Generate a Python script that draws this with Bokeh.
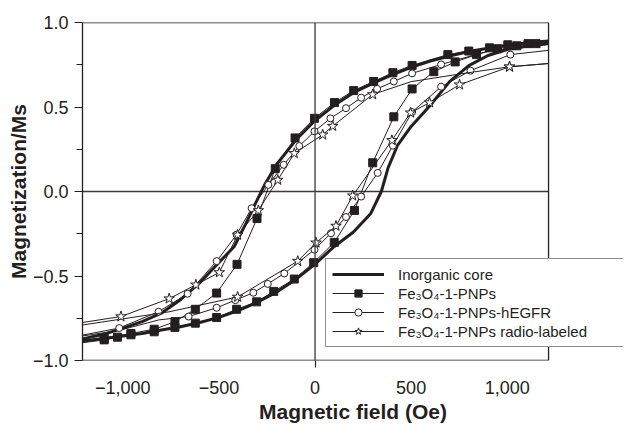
from bokeh.plotting import figure
from bokeh.models import FixedTicker, Span, Legend, LegendItem
from bokeh.embed import file_html
from bokeh.resources import INLINE

# ---------------- data ----------------
x_ticks = [-1000, -500, 0, 500, 1000]
x_tick_labels = ["\u22121,000", "\u2212500", "0", "500", "1,000"]
y_ticks = [-1.0, -0.5, 0.0, 0.5, 1.0]
y_tick_labels = ["\u22121.0", "\u22120.5", "0.0", "0.5", "1.0"]
y_minor_ticks = [-0.75, -0.25, 0.25, 0.75]

series_names = ["Inorganic core", "Fe\u2083O\u2084-1-PNPs",
                "Fe\u2083O\u2084-1-PNPs-hEGFR", "Fe\u2083O\u2084-1-PNPs radio-labeled"]

# Inorganic core (thick line, no markers)
core_up_H = [1215, 1100, 1000, 900, 800, 700, 600, 500, 400, 300, 200, 100, 0,
             -100, -200, -260, -310, -360, -420, -500, -600, -700, -800, -900, -1000, -1100, -1210]
core_up_M = [0.890, 0.880, 0.865, 0.848, 0.828, 0.802, 0.772, 0.735, 0.690, 0.640, 0.585, 0.510, 0.420,
             0.305, 0.160, 0.045, -0.070, -0.190, -0.325, -0.420, -0.540, -0.640, -0.720, -0.770, -0.808, -0.845, -0.872]
core_lo_H = [-1210, -1100, -1000, -900, -800, -700, -600, -500, -400, -300, -200, -100, 0,
             100, 200, 290, 345, 380, 430, 500, 600, 700, 800, 900, 1000, 1100, 1215]
core_lo_M = [-0.885, -0.870, -0.855, -0.840, -0.820, -0.800, -0.775, -0.745, -0.705, -0.655, -0.595, -0.520, -0.430,
             -0.325, -0.240, -0.130, 0.000, 0.140, 0.275, 0.385, 0.510, 0.650, 0.745, 0.805, 0.840, 0.860, 0.875]

# Fe3O4-1-PNPs (filled squares)
sq_up_H = [1212, 1108, 1003, 908, 800, 691, 505, 405, 305, 201, 101, -3, -104, -207, -302, -406,
           -512, -623, -729, -837, -958, -1097, -1210]
sq_up_M = [0.885, 0.875, 0.868, 0.850, 0.831, 0.810, 0.746, 0.703, 0.651, 0.597, 0.526, 0.433, 0.317, 0.135,
           -0.160, -0.431, -0.601, -0.697, -0.770, -0.815, -0.840, -0.870, -0.885]
sq_up_mk = [0] + [1] * 21 + [0]
sq_lo_H = [-1210, -1097, -1028, -958, -837, -729, -623, -512, -408, -304, -215, -108, -7, 100, 205, 300,
           410, 505, 618, 729, 840, 950, 1050, 1150, 1212]
sq_lo_M = [-0.895, -0.878, -0.862, -0.848, -0.830, -0.804, -0.779, -0.746, -0.697, -0.653, -0.591, -0.518,
           -0.421, -0.301, -0.112, 0.170, 0.442, 0.607, 0.709, 0.767, 0.810, 0.845, 0.862, 0.875, 0.885]
sq_lo_mk = [0] + [1] * 23 + [0]

# Fe3O4-1-PNPs-hEGFR (open circles)
ci_up_H = [1212, 900, 656, 505, 410, 323, 240, 161, 80, -3, -82, -163, -243, -330, -408, -512, -663,
           -814, -1019, -1210]
ci_up_M = [0.870, 0.830, 0.752, 0.699, 0.651, 0.607, 0.555, 0.493, 0.433, 0.356, 0.269, 0.158, 0.039,
           -0.099, -0.255, -0.412, -0.605, -0.711, -0.808, -0.850]
ci_up_mk = [0, 0] + [1] * 17 + [0]
ci_lo_H = [-1210, -1019, -814, -658, -512, -415, -321, -246, -160, -3, 83, 161, 240, 326, 405, 505,
           656, 809, 1016, 1212]
ci_lo_M = [-0.855, -0.822, -0.760, -0.740, -0.688, -0.643, -0.599, -0.547, -0.485, -0.344, -0.247,
           -0.151, -0.030, 0.110, 0.271, 0.470, 0.620, 0.715, 0.810, 0.835]
ci_lo_mk = [0, 0, 0] + [1] * 16 + [0]

# Fe3O4-1-PNPs radio-labeled (open stars)
st_up_H = [1212, 1012, 752, 500, 300, 92, 40, -108, -194, -295, -403, -498, -620, -759, -1010, -1210]
st_up_M = [0.757, 0.738, 0.695, 0.650, 0.574, 0.387, 0.336, 0.226, 0.068, -0.112, -0.257, -0.479,
           -0.552, -0.634, -0.740, -0.775]
st_up_mk = [0, 1, 0, 0] + [1] * 11 + [0]
st_lo_H = [-1210, -760, -403, -90, 5, 109, 196, 400, 497, 596, 752, 1012, 1212]
st_lo_M = [-0.790, -0.712, -0.624, -0.412, -0.303, -0.204, -0.025, 0.303, 0.466, 0.526, 0.632, 0.738, 0.757]
st_lo_mk = [0, 0] + [1] * 10 + [0]

# plot box limits (Oe / Ms); the frame is widened on the right so the legend can overhang the box
X_MIN, X_MAX = -1210, 1215
X_PANEL_MAX = 1605
Y_MIN, Y_MAX = -1.0, 1.0

INK = "#231f20"
FONT = "Liberation Sans"

p = figure(width=624, height=425, output_backend="svg", toolbar_location=None,
           x_range=(X_MIN, X_PANEL_MAX), y_range=(Y_MIN, Y_MAX),
           min_border_left=82, min_border_right=1, min_border_top=22, min_border_bottom=58)
p.background_fill_color = "white"
p.border_fill_color = "white"
p.xgrid.visible = False
p.ygrid.visible = False
p.outline_line_color = None

# axes
p.xaxis.ticker = FixedTicker(ticks=x_ticks, minor_ticks=[0])
p.xaxis.major_label_overrides = {t: l for t, l in zip(x_ticks, x_tick_labels)}
p.yaxis.ticker = FixedTicker(ticks=y_ticks, minor_ticks=y_minor_ticks)
p.yaxis.major_label_overrides = {t: l for t, l in zip(y_ticks, y_tick_labels)}
for ax in (p.xaxis, p.yaxis):
    ax.axis_line_color = INK
    ax.axis_line_width = 1.3
    ax.major_tick_line_color = INK
    ax.minor_tick_line_color = INK
    ax.major_tick_line_width = 1.2
    ax.minor_tick_line_width = 1.2
    ax.major_tick_in = 0
    ax.minor_tick_in = 0
    ax.major_label_text_font = FONT
    ax.major_label_text_font_size = "18px"
    ax.major_label_text_color = INK
    ax.axis_label_text_font = FONT
    ax.axis_label_text_font_size = "21px"
    ax.axis_label_text_font_style = "bold"
    ax.axis_label_text_color = INK
p.xaxis.axis_line_color = None
p.xaxis.major_tick_out = 0
p.xaxis.minor_tick_out = 7
p.xaxis.major_label_standoff = 13
p.xaxis.axis_label_standoff = 3
p.yaxis.major_tick_out = 8
p.yaxis.minor_tick_out = 6
p.yaxis.major_label_standoff = 6
p.yaxis.axis_label_standoff = 0
p.xaxis.axis_label = "Magnetic field (Oe)"
p.yaxis.axis_label = "Magnetization/Ms"

# plot box (top, bottom, right) and zero lines
p.segment(x0=[X_MIN, X_MIN], y0=[Y_MAX, Y_MIN], x1=[X_MAX, X_MAX], y1=[Y_MAX, Y_MIN],
          line_color=INK, line_width=1.5)
p.add_layout(Span(location=X_MAX, dimension="height", line_color=INK, line_width=1.3))
p.add_layout(Span(location=0, dimension="height", line_color="#3a3a3a", line_width=1.3))
p.segment(x0=[X_MIN], y0=[0], x1=[X_MAX], y1=[0], line_color="#3a3a3a", line_width=1.3)

def pick(vals, flags):
    return [v for v, f in zip(vals, flags) if f]

# core
r_core = p.line(core_up_H, core_up_M, line_color=INK, line_width=3)
p.line(core_lo_H, core_lo_M, line_color=INK, line_width=3)

# squares
r_sq_l = p.line(sq_up_H, sq_up_M, line_color=INK, line_width=1)
p.line(sq_lo_H, sq_lo_M, line_color=INK, line_width=1)
r_sq_m = p.scatter(pick(sq_up_H, sq_up_mk) + pick(sq_lo_H, sq_lo_mk),
                   pick(sq_up_M, sq_up_mk) + pick(sq_lo_M, sq_lo_mk),
                   marker="square", size=8, fill_color=INK, line_color=INK)

# circles
r_ci_l = p.line(ci_up_H, ci_up_M, line_color=INK, line_width=1)
p.line(ci_lo_H, ci_lo_M, line_color=INK, line_width=1)
r_ci_m = p.scatter(pick(ci_up_H, ci_up_mk) + pick(ci_lo_H, ci_lo_mk),
                   pick(ci_up_M, ci_up_mk) + pick(ci_lo_M, ci_lo_mk),
                   marker="circle", size=7, fill_color="white", line_color=INK, line_width=1)

# stars
r_st_l = p.line(st_up_H, st_up_M, line_color=INK, line_width=1)
p.line(st_lo_H, st_lo_M, line_color=INK, line_width=1)
r_st_m = p.scatter(pick(st_up_H, st_up_mk) + pick(st_lo_H, st_lo_mk),
                   pick(st_up_M, st_up_mk) + pick(st_lo_M, st_lo_mk),
                   marker="star", size=11, fill_color="white", line_color=INK, line_width=1)

legend = Legend(items=[
    LegendItem(label=series_names[0], renderers=[r_core]),
    LegendItem(label=series_names[1], renderers=[r_sq_l, r_sq_m]),
    LegendItem(label=series_names[2], renderers=[r_ci_l, r_ci_m]),
    LegendItem(label=series_names[3], renderers=[r_st_l, r_st_m]),
], location=(243, 13))
legend.border_line_color = INK
legend.border_line_width = 1.2
legend.background_fill_color = "white"
legend.background_fill_alpha = 1.0
legend.padding = 6
legend.spacing = 1
legend.margin = 0
legend.label_height = 18
legend.glyph_height = 18
legend.glyph_width = 52
legend.label_standoff = 14
legend.label_width = 219
legend.label_text_font = FONT
legend.label_text_font_size = "15px"
legend.label_text_color = INK
p.add_layout(legend)

open("out.html", "w").write(file_html(p, INLINE))
